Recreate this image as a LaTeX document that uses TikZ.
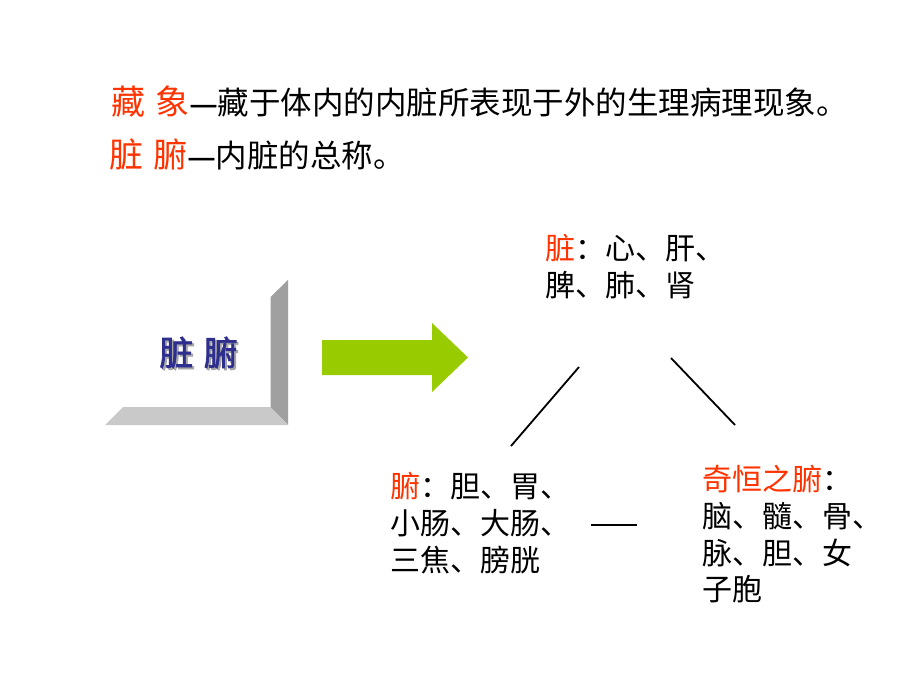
\documentclass[tikz,border=0pt]{standalone}
\usepackage{fontspec}
\setmainfont{Noto Sans CJK SC}
\newfontfamily\cjkbold{Noto Sans CJK SC}[FakeBold=2]
\definecolor{zred}{HTML}{FF3300}
\definecolor{zgreen}{HTML}{99CC00}
\definecolor{zblue}{HTML}{2E2E8F}
\definecolor{gdark}{HTML}{A0A0A0}
\definecolor{glight}{HTML}{C9C9C9}
\begin{document}
\begin{tikzpicture}[x=1pt,y=-1pt,
  txt/.style={anchor=west,inner sep=0pt,font=\fontsize{30}{30}\selectfont},
  ttl/.style={anchor=west,inner sep=0pt,font=\fontsize{31.5}{31.5}\selectfont},
  conn/.style={line width=1.8pt,black}]
\fill[white] (0,0) rectangle (920,690);
\useasboundingbox (0,0) rectangle (920,690);
% title lines
\node[ttl] (t1) at (111,102) {{\color{zred}\fontsize{34}{34}\selectfont 藏\hspace{0.3em}象}{\cjkbold —}藏于体内的内脏所表现于外的生理病理现象。};
\node[ttl] (t2) at (109,155) {{\color{zred}\fontsize{34}{34}\selectfont 脏\hspace{0.3em}腑}{\cjkbold —}内脏的总称。};
% L-shaped 3D panel
\fill[gdark] (270.5,297) -- (288,280) -- (288,425) -- (270.5,407) -- cycle;
\fill[glight] (105,425) -- (288,425) -- (270.5,407) -- (123,407) -- cycle;
\node[inner sep=0pt,text=zblue,font=\cjkbold\fontsize{34}{34}\selectfont] (zf) at (198.5,353.5)
  {\makebox[0pt][l]{\hspace{2pt}\raisebox{-2pt}{\color{gray!70}脏\hspace{0.3em}腑}}脏\hspace{0.3em}腑};
% green arrow
\fill[zgreen] (322,340) -- (432,340) -- (432,323) -- (468,357.5) -- (432,392) -- (432,375) -- (322,375) -- cycle;
% top node
\node[txt] (z1) at (545,248) {\textcolor{zred}{脏}：心、肝、};
\node[txt] (z2) at (545,285) {脾、肺、肾};
% fu
\node[txt] (f1) at (390,486) {\textcolor{zred}{腑}：胆、胃、};
\node[txt] (f2) at (390,523) {小肠、大肠、};
\node[txt] (f3) at (390,560) {三焦、膀胱};
% qiheng
\node[txt] (q1) at (702,479) {\textcolor{zred}{奇恒之腑}：};
\node[txt] (q2) at (702,516) {脑、髓、骨、};
\node[txt] (q3) at (702,553) {脉、胆、女};
\node[txt] (q4) at (702,589) {子胞};
% connectors
\coordinate (a1) at (579,367); \coordinate (a2) at (511,446);
\coordinate (b1) at (671,358); \coordinate (b2) at (735,425);
\coordinate (c1) at (591,525); \coordinate (c2) at (637,525);
\draw[conn] (a1) -- (a2);
\draw[conn] (b1) -- (b2);
\draw[conn] (c1) -- (c2);
\end{tikzpicture}
\end{document}
